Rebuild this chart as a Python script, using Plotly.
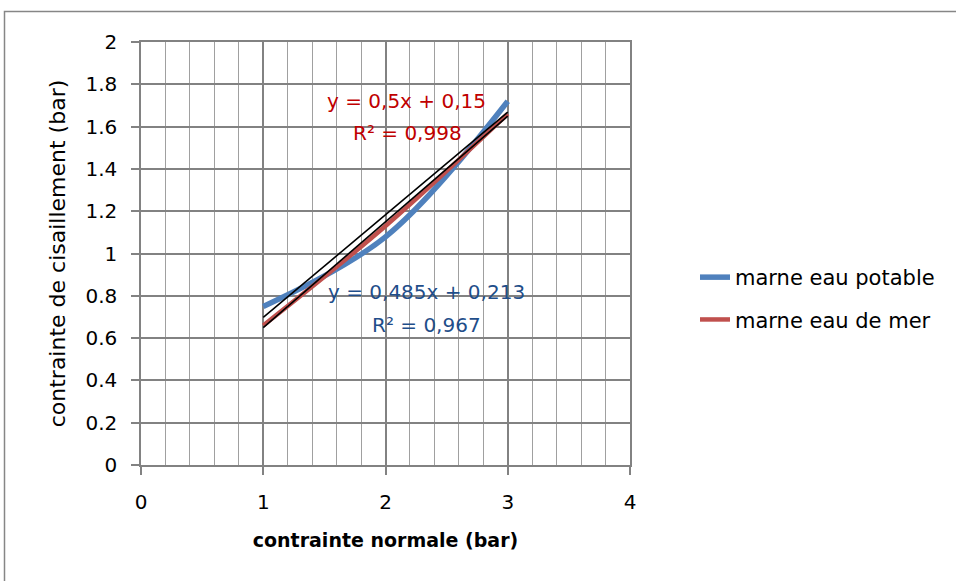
import numpy as np
import plotly.graph_objects as go

# ---- data ----
x_vals = [1, 2, 3]
potable = [0.75, 1.079, 1.72]
mer = [0.66, 1.13, 1.66]
series_names = ["marne eau potable", "marne eau de mer"]
y_ticks = [0, 0.2, 0.4, 0.6, 0.8, 1, 1.2, 1.4, 1.6, 1.8, 2]
x_ticks = [0, 1, 2, 3, 4]
eq_mer = ["y = 0,5x + 0,15", "R² = 0,998"]
eq_pot = ["y = 0,485x + 0,213", "R² = 0,967"]

FONT = "DejaVu Sans"
GRID = "#828282"

W, H = 956, 581
L, R, T, B = 141, 326, 42, 116
pw, ph = W - L - R, H - T - B

fig = go.Figure()

fig.add_trace(go.Scatter(x=x_vals, y=potable, mode="lines", name=series_names[0],
                         line=dict(color="#4F81BD", width=5.5, shape="spline"),
                         legendgroup="a"))
fig.add_trace(go.Scatter(x=x_vals, y=mer, mode="lines", name=series_names[1],
                         line=dict(color="#C0504D", width=4.5, shape="spline"),
                         legendgroup="b"))

# linear trendlines (computed from the data)
for ys in (potable, mer):
    m, c = np.polyfit(x_vals, ys, 1)
    xs = [x_vals[0], x_vals[-1]]
    fig.add_trace(go.Scatter(x=xs, y=[m * v + c for v in xs], mode="lines",
                             line=dict(color="black", width=1.6),
                             showlegend=False, hoverinfo="skip"))

def px2x(px):
    return (px - L) / pw * 4

def py2y(py):
    return (H - B - py) / ph * 2

anns = []
for txt, (cx, cy) in zip(eq_mer, [(406, 101), (407, 133)]):
    anns.append(dict(x=px2x(cx), y=py2y(cy), text=txt, showarrow=False,
                     font=dict(family=FONT, size=20, color="#C00000"),
                     xanchor="center", yanchor="middle"))
for txt, (cx, cy) in zip(eq_pot, [(426, 292), (426, 325)]):
    anns.append(dict(x=px2x(cx), y=py2y(cy), text=txt, showarrow=False,
                     font=dict(family=FONT, size=20, color="#1F4E8A"),
                     xanchor="center", yanchor="middle"))

# outer chart border (decoration)
bx0 = (4.5 - L) / pw
bx1 = (W + 20 - L) / pw
by1 = (H - B - 11.5) / ph
by0 = (H - B - (H + 20)) / ph

fig.update_layout(
    width=W, height=H,
    margin=dict(l=L, r=R, t=T, b=B, autoexpand=False),
    plot_bgcolor="white", paper_bgcolor="white",
    font=dict(family=FONT, size=19, color="black"),
    annotations=anns,
    shapes=[dict(type="rect", xref="paper", yref="paper", x0=bx0, x1=bx1,
                 y0=by0, y1=by1, line=dict(color="#868686", width=1.5),
                 layer="below")],
    legend=dict(x=(695 - L) / pw, y=py2y(257) / 2, xanchor="left", yanchor="top",
                font=dict(family=FONT, size=21), tracegroupgap=12,
                bgcolor="rgba(0,0,0,0)"),
    showlegend=True,
)

fig.update_xaxes(range=[0, 4], tickvals=x_ticks, ticktext=[str(v) for v in x_ticks],
                 showgrid=True, gridcolor=GRID, gridwidth=1.5,
                 minor=dict(dtick=0.2, showgrid=True, gridcolor="#A0A0A0", gridwidth=1.2),
                 zeroline=False, showline=True, linecolor=GRID, linewidth=1.5,
                 mirror=True, ticks="outside", ticklen=8, tickcolor=GRID, tickwidth=1.5,
                 ticklabelstandoff=10, tickfont=dict(family=FONT, size=20),
                 title=dict(text="<b>contrainte normale (bar)</b>",
                            font=dict(family=FONT, size=19), standoff=21))
fig.update_yaxes(range=[0, 2], tickvals=y_ticks, ticktext=[f"{v:g}" for v in y_ticks],
                 showgrid=True, gridcolor=GRID, gridwidth=1.5,
                 zeroline=False, showline=True, linecolor=GRID, linewidth=1.5,
                 mirror=True, ticks="outside", ticklen=8, tickcolor=GRID, tickwidth=1.5,
                 ticklabelstandoff=10, tickfont=dict(family=FONT, size=20),
                 title=dict(text="contrainte de cisaillement (bar)",
                            font=dict(family=FONT, size=22), standoff=14))

fig.write_html("out.html")
